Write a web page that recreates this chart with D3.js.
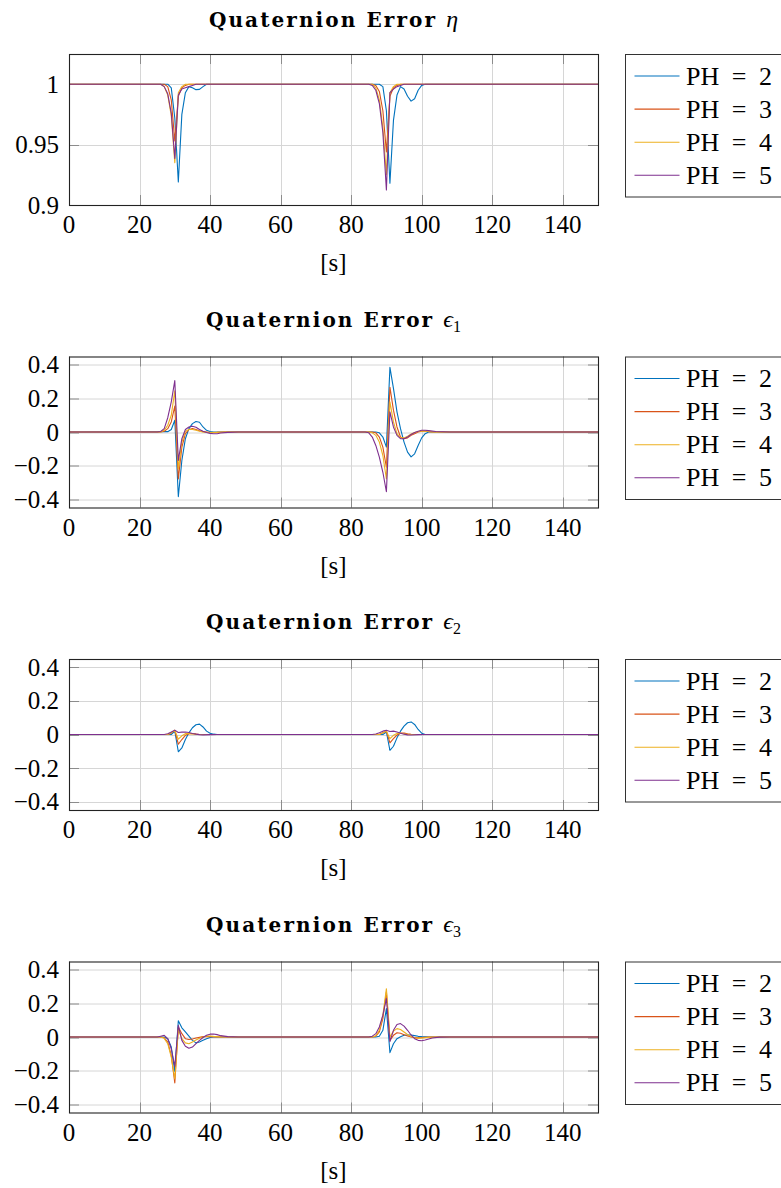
<!DOCTYPE html>
<html>
<head>
<meta charset="utf-8">
<script src="https://cdn.jsdelivr.net/npm/d3@7"></script>
<style>
body { margin: 0; background: #fff; }
svg text { font-family: "Liberation Serif", "DejaVu Serif", serif; fill: #000; }
</style>
</head>
<body>
<div id="chart"></div>
<script>
// axis ticks and legend
var xTicks = [0, 20, 40, 60, 80, 100, 120, 140];
var etaTicks = [0.9, 0.95, 1];
var epsTicks = [-0.4, -0.2, 0, 0.2, 0.4];
var seriesNames = ["PH = 2", "PH = 3", "PH = 4", "PH = 5"];
var colors = ["#0072BD", "#D95319", "#EDB120", "#7E2F8E"];

// quaternion error eta, [time, value]
var etaPH2 = [[0,1],[28,1],[29,0.997],[30,0.972],[31,0.919],[32,0.975],[33,0.993],[34,0.998],[35,0.997],[36,0.9955],[37,0.9957],[38,0.998],[39,1],
  [88,1],[89,0.998],[90,0.978],[91,0.918],[92,0.97],[93,0.991],[94,0.998],[95,0.996],[96,0.99],[97,0.986],[98,0.988],[99,0.995],[100,0.999],[101,1],[150,1]];
var etaPH3 = [[0,1],[27,1],[28,0.998],[29,0.987],[30,0.953],[31,0.99],[32,0.997],[33,0.999],[34,1],
  [86,1],[87,0.999],[88,0.994],[89,0.978],[90,0.944],[91,0.99],[92,0.997],[93,0.999],[94,1],[150,1]];
var etaPH4 = [[0,1],[26,1],[27,0.998],[28,0.991],[29,0.974],[30,0.935],[31,0.993],[32,0.998],[33,1],
  [86,1],[87,0.997],[88,0.987],[89,0.964],[90,0.925],[91,0.993],[92,0.998],[93,1],[150,1]];
var etaPH5 = [[0,1],[26,1],[27,0.998],[28,0.992],[29,0.976],[30,0.9386],[31,0.991],[32,0.996],[33,0.997],[34,0.998],[35,0.999],[36,1],
  [85,1],[86,0.999],[87,0.995],[88,0.984],[89,0.96],[90,0.9124],[91,0.993],[92,0.996],[93,0.998],[94,0.999],[95,1],[150,1]];

// quaternion error eps1
var e1PH2 = [[0,0],[28,0.002],[29,0.015],[30,0.07],[31,-0.385],[32,-0.17],[33,-0.04],[34,0.02],[35,0.05],[36,0.063],[37,0.058],[38,0.03],[39,0.01],[40,0.003],[41,0],
  [87,0],[88,-0.005],[89,-0.03],[90,-0.09],[91,0.385],[92,0.26],[93,0.12],[94,0.02],[95,-0.06],[96,-0.12],[97,-0.148],[98,-0.13],[99,-0.08],[100,-0.035],[101,-0.01],[102,0],[150,0]];
var e1PH3 = [[0,0],[26,0],[27,0.004],[28,0.02],[29,0.06],[30,0.155],[31,-0.28],[32,-0.09],[33,-0.01],[34,0.015],[35,0.02],[36,0.015],[37,0.008],[38,0.002],[39,0],[40,-0.003],[42,-0.002],[44,0],
  [86,0],[87,-0.005],[88,-0.03],[89,-0.09],[90,-0.21],[91,0.267],[92,0.13],[93,0.03],[94,-0.03],[95,-0.04],[96,-0.035],[97,-0.02],[98,-0.01],[99,0],[100,0.005],[101,0.005],[103,0],[150,0]];
var e1PH4 = [[0,0],[26,0],[27,0.01],[28,0.04],[29,0.1],[30,0.246],[31,-0.22],[32,-0.06],[33,0.005],[34,0.015],[35,0.015],[36,0.01],[37,0.005],[38,0],[40,-0.004],[42,-0.002],[44,0],
  [85,0],[86,-0.005],[87,-0.02],[88,-0.06],[89,-0.14],[90,-0.28],[91,0.18],[92,0.06],[93,-0.01],[94,-0.035],[95,-0.035],[96,-0.025],[97,-0.012],[98,-0.003],[99,0.003],[100,0.006],[101,0.005],[103,0],[150,0]];
var e1PH5 = [[0,0],[25,0],[26,0.003],[27,0.02],[28,0.085],[29,0.18],[30,0.306],[31,-0.17],[32,-0.04],[33,0.015],[34,0.03],[35,0.034],[36,0.028],[37,0.015],[38,0.005],[39,-0.003],[40,-0.008],[41,-0.01],[42,-0.01],[43,-0.006],[45,-0.002],[48,0],
  [84,0],[85,-0.005],[86,-0.03],[87,-0.08],[88,-0.15],[89,-0.24],[90,-0.356],[91,0.12],[92,0.03],[93,-0.02],[94,-0.04],[95,-0.04],[96,-0.03],[97,-0.015],[98,-0.003],[99,0.005],[100,0.01],[101,0.01],[102,0.008],[104,0.003],[108,0],[150,0]];

// quaternion error eps2
var e2PH2 = [[0,0],[29,0],[30,0.02],[31,-0.103],[32,-0.08],[33,-0.03],[34,0.01],[35,0.04],[36,0.058],[37,0.062],[38,0.045],[39,0.02],[40,0.008],[41,0.002],[42,0],
  [89,0],[90,0.015],[91,-0.094],[92,-0.07],[93,-0.02],[94,0.02],[95,0.05],[96,0.07],[97,0.075],[98,0.06],[99,0.03],[100,0.008],[101,0],[150,0]];
var e2PH3 = [[0,0],[28,0],[29,0.008],[30,0.025],[31,-0.058],[32,-0.03],[33,-0.005],[34,0.005],[35,0.006],[36,0.003],[37,0],
  [88,0],[89,0.01],[90,0.02],[91,-0.05],[92,-0.025],[93,-0.003],[94,0.008],[95,0.008],[96,0.004],[97,0.001],[98,0],[150,0]];
var e2PH4 = [[0,0],[28,0],[29,0.01],[30,0.025],[31,-0.028],[32,-0.008],[33,0.005],[34,0.006],[35,0.004],[36,0.001],[37,0],
  [88,0],[89,0.01],[90,0.02],[91,-0.025],[92,-0.005],[93,0.006],[94,0.007],[95,0.004],[96,0.001],[97,0],[150,0]];
var e2PH5 = [[0,0],[27,0],[28,0.005],[29,0.015],[30,0.026],[31,0.012],[32,0.014],[33,0.015],[34,0.012],[35,0.006],[36,0.002],[37,-0.001],[38,-0.002],[40,-0.001],[42,0],
  [86,0],[87,0.003],[88,0.01],[89,0.02],[90,0.025],[91,0.018],[92,0.02],[93,0.015],[94,0.008],[95,0.002],[96,-0.002],[97,-0.003],[99,-0.001],[101,0],[150,0]];

// quaternion error eps3
var e3PH2 = [[0,0],[27,0],[28,-0.01],[29,-0.06],[30,-0.205],[31,0.097],[32,0.055],[33,0.03],[34,0.005],[35,-0.02],[36,-0.035],[37,-0.03],[38,-0.02],[39,-0.01],[40,-0.003],[41,0],
  [87,0],[88,0.005],[89,0.04],[90,0.17],[91,-0.093],[92,-0.04],[93,-0.01],[94,0.002],[95,0.01],[96,0.012],[97,0.012],[98,0.008],[99,0.004],[100,0.002],[102,0],[150,0]];
var e3PH3 = [[0,0],[26,0],[27,-0.005],[28,-0.03],[29,-0.11],[30,-0.274],[31,0.06],[32,0.02],[33,-0.01],[34,-0.015],[35,-0.012],[36,-0.006],[37,-0.002],[38,0.002],[39,0.003],[40,0.002],[42,0],
  [86,0],[87,0.005],[88,0.03],[89,0.11],[90,0.27],[91,-0.02],[92,0.01],[93,0.025],[94,0.022],[95,0.014],[96,0.006],[97,0],[98,-0.004],[99,-0.005],[100,-0.004],[102,-0.001],[104,0],[150,0]];
var e3PH4 = [[0,0],[26,0],[27,-0.008],[28,-0.04],[29,-0.12],[30,-0.25],[31,0.045],[32,-0.01],[33,-0.035],[34,-0.04],[35,-0.03],[36,-0.018],[37,-0.008],[38,0],[39,0.005],[40,0.006],[41,0.004],[43,0.001],[45,0],
  [86,0],[87,0.008],[88,0.04],[89,0.13],[90,0.288],[91,0],[92,0.035],[93,0.05],[94,0.045],[95,0.03],[96,0.015],[97,0.003],[98,-0.005],[99,-0.008],[100,-0.006],[102,-0.002],[104,0],[150,0]];
var e3PH5 = [[0,0],[25,0],[26,0.005],[27,0.01],[28,-0.01],[29,-0.07],[30,-0.175],[31,0.07],[32,-0.02],[33,-0.055],[34,-0.067],[35,-0.06],[36,-0.04],[37,-0.02],[38,-0.003],[39,0.01],[40,0.017],[41,0.018],[42,0.014],[43,0.008],[45,0.002],[48,0],
  [85,0],[86,0.005],[87,0.02],[88,0.06],[89,0.13],[90,0.229],[91,-0.028],[92,0.04],[93,0.075],[94,0.08],[95,0.065],[96,0.04],[97,0.012],[98,-0.01],[99,-0.02],[100,-0.022],[101,-0.018],[102,-0.012],[103,-0.006],[105,-0.001],[108,0],[150,0]];

var fmtEps = function(d){ return d < 0 ? "\u2212" + Math.abs(d) : String(d); };

var panels = [
  {sym: "\u03B7", sub: "", series: [etaPH2, etaPH3, etaPH4, etaPH5], domain: [0.9, 1.025], ticks: etaTicks, fmt: function(d){ return String(d); }},
  {sym: "\u03F5", sub: "1", series: [e1PH2, e1PH3, e1PH4, e1PH5], domain: [-0.45, 0.45], ticks: epsTicks, fmt: fmtEps},
  {sym: "\u03F5", sub: "2", series: [e2PH2, e2PH3, e2PH4, e2PH5], domain: [-0.45, 0.45], ticks: epsTicks, fmt: fmtEps},
  {sym: "\u03F5", sub: "3", series: [e3PH2, e3PH3, e3PH4, e3PH5], domain: [-0.45, 0.45], ticks: epsTicks, fmt: fmtEps}
];

var W = 781, H = 1188;
var left = 69, plotW = 529, plotH = 151;

var svg = d3.select("#chart").append("svg")
  .attr("width", W)
  .attr("height", H);

var x = d3.scaleLinear().domain([0, 150]).range([0, plotW]);

panels.forEach(function(p, i){
  var top = 54 + i * 302.5;
  var y = d3.scaleLinear().domain(p.domain).range([plotH, 0]);
  var g = svg.append("g").attr("transform", "translate(" + left + "," + top + ")");

  // grid
  g.selectAll(".gx").data(xTicks).enter().append("line")
    .attr("x1", function(d){ return Math.round(x(d)) + 0.5; })
    .attr("x2", function(d){ return Math.round(x(d)) + 0.5; })
    .attr("y1", 0).attr("y2", plotH)
    .attr("stroke", "#d6d6d6").attr("stroke-width", 1);
  g.selectAll(".gy").data(p.ticks).enter().append("line")
    .attr("y1", function(d){ return Math.round(y(d)) + 0.5; })
    .attr("y2", function(d){ return Math.round(y(d)) + 0.5; })
    .attr("x1", 0).attr("x2", plotW)
    .attr("stroke", "#d6d6d6").attr("stroke-width", 1);

  // inward ticks on all four sides
  var tk = 10;
  [0, plotH].forEach(function(yy){
    g.selectAll(null).data(xTicks).enter().append("line")
      .attr("x1", function(d){ return Math.round(x(d)) + 0.5; })
      .attr("x2", function(d){ return Math.round(x(d)) + 0.5; })
      .attr("y1", yy).attr("y2", yy === 0 ? tk : plotH - tk)
      .attr("stroke", "#8c8c8c").attr("stroke-width", 1);
  });
  [0, plotW].forEach(function(xx){
    g.selectAll(null).data(p.ticks).enter().append("line")
      .attr("y1", function(d){ return Math.round(y(d)) + 0.5; })
      .attr("y2", function(d){ return Math.round(y(d)) + 0.5; })
      .attr("x1", xx).attr("x2", xx === 0 ? tk : plotW - tk)
      .attr("stroke", "#8c8c8c").attr("stroke-width", 1);
  });

  // series
  var line = d3.line()
    .x(function(d){ return x(d[0]); })
    .y(function(d){ return y(d[1]); });
  g.selectAll(".series").data(p.series).enter().append("path")
    .attr("d", line)
    .attr("fill", "none")
    .attr("stroke", function(d, k){ return colors[k]; })
    .attr("stroke-width", 1.1)
    .attr("stroke-linejoin", "round");

  // box
  g.append("rect")
    .attr("x", 0.5).attr("y", 0.5)
    .attr("width", plotW).attr("height", plotH)
    .attr("fill", "none").attr("stroke", "#222").attr("stroke-width", 1.1);

  // tick labels
  g.selectAll(".xl").data(xTicks).enter().append("text")
    .attr("x", function(d){ return x(d); })
    .attr("y", plotH + 28)
    .attr("text-anchor", "middle")
    .attr("font-size", 25)
    .text(function(d){ return d; });
  g.selectAll(".yl").data(p.ticks).enter().append("text")
    .attr("x", -10)
    .attr("y", function(d){ return y(d) + 8.5; })
    .attr("text-anchor", "end")
    .attr("font-size", 25)
    .text(p.fmt);

  // x label
  g.append("text")
    .attr("x", plotW / 2)
    .attr("y", plotH + 66)
    .attr("text-anchor", "middle")
    .attr("font-size", 25)
    .text("[s]");

  // title
  var t = g.append("text")
    .attr("x", plotW / 2)
    .attr("y", i === 0 ? -27 : -30)
    .attr("text-anchor", "middle");
  t.append("tspan")
    .attr("font-family", "'DejaVu Serif', serif")
    .attr("font-weight", "bold")
    .attr("font-size", 20)
    .attr("letter-spacing", 2.1)
    .text("Quaternion Error ");
  t.append("tspan").attr("font-style", "italic").attr("font-size", 24).text(p.sym);
  if (p.sub) t.append("tspan").attr("font-size", 16).attr("dy", 5).text(p.sub);

  // legend
  var lg = svg.append("g").attr("transform", "translate(625.5," + (top + 0.5) + ")");
  lg.append("rect")
    .attr("width", 170).attr("height", 142.5)
    .attr("fill", "#fff").attr("stroke", "#333").attr("stroke-width", 1);
  seriesNames.forEach(function(name, k){
    var ly = 21.5 + k * 33.1;
    lg.append("line")
      .attr("x1", 9).attr("x2", 54)
      .attr("y1", ly).attr("y2", ly)
      .attr("stroke", colors[k]).attr("stroke-width", 1.1);
    lg.append("text")
      .attr("x", 60.5)
      .attr("y", ly + 8.6)
      .attr("font-size", 26)
      .attr("word-spacing", 6)
      .text(name);
  });
});
</script>
</body>
</html>
